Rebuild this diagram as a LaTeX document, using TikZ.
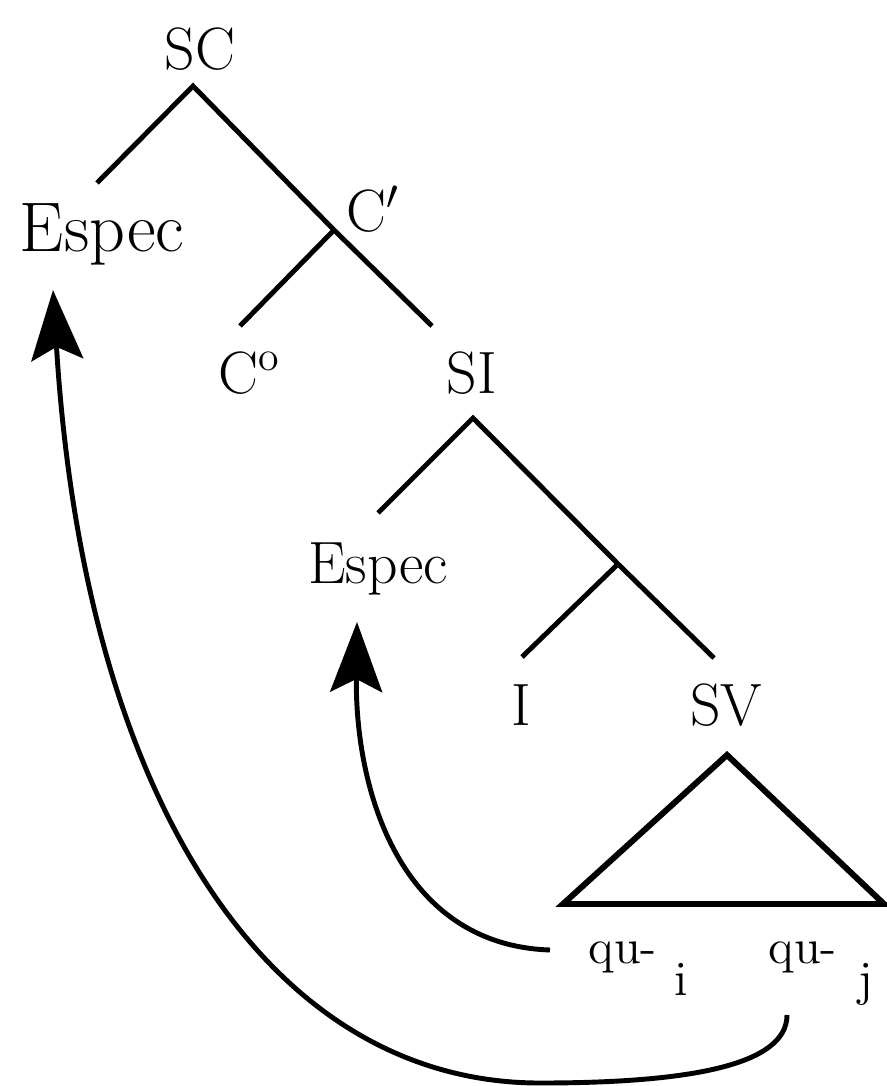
\documentclass[tikz,border=0pt]{standalone}
\usepackage{amsmath}
\usetikzlibrary{arrows.meta}

\tikzset{
    cat/.style={font=\fontsize{17}{20}\selectfont, inner sep=0pt, anchor=base},
    trace/.style={font=\fontsize{14}{16}\selectfont, inner sep=0pt, anchor=base west},
    branch/.style={line width=1.4pt},
    move/.style={line width=1.4pt, -{Stealth[length=7mm, width=5.2mm, inset=1.3mm]}},
}

\begin{document}
\begin{tikzpicture}
            \useasboundingbox (0,0) rectangle (8.86,-10.86);

                \node[cat] (sc) at (2.00,-0.70) {SC};
                \node[cat] (espec1) at (1.02,-2.52) {\fontsize{20}{22}\selectfont Espec};
                \node[cat, anchor=base west] (cbar) at (3.46,-2.32) {C$'$};
                \node[cat] (c0) at (2.50,-3.93) {C\textsuperscript{o}};
                \node[cat] (si) at (4.72,-3.93) {SI};
                \node[cat] (espec2) at (3.78,-5.83) {Espec};
                \node[cat] (infl) at (5.21,-7.25) {I};
                \node[cat] (sv) at (7.26,-7.25) {SV};
                \node[trace] (qui) at (5.88,-9.63) {qu-\hspace{0.18cm}\raisebox{-0.32cm}{i}};
                \node[trace] (quj) at (7.68,-9.63) {qu-\hspace{0.22cm}\raisebox{-0.32cm}{j}};

                \coordinate (sc-top) at (1.93,-0.86);
                \coordinate (espec1-in) at (0.97,-1.83);
                \coordinate (cbar-node) at (3.34,-2.30);
                \coordinate (c0-in) at (2.40,-3.26);
                \coordinate (si-in) at (4.32,-3.26);
                \coordinate (si-top) at (4.73,-4.18);
                \coordinate (espec2-in) at (3.78,-5.13);
                \coordinate (ibar-node) at (6.18,-5.64);
                \coordinate (infl-in) at (5.22,-6.57);
                \coordinate (sv-in) at (7.14,-6.58);
                \coordinate (sv-top) at (7.27,-7.55);
                \coordinate (sv-left) at (5.63,-9.04);
                \coordinate (sv-right) at (8.84,-9.04);

                \coordinate (qui-tail) at (5.50,-9.50);
                \coordinate (quj-tail) at (7.87,-10.15);
                \coordinate (espec2-tip) at (3.57,-6.22);
                \coordinate (espec1-tip) at (0.53,-2.90);

                \draw[branch] (espec1-in) -- (sc-top) -- (cbar-node) -- (si-in);
                \draw[branch] (c0-in) -- (cbar-node);
                \draw[branch] (espec2-in) -- (si-top) -- (ibar-node) -- (sv-in);
                \draw[branch] (infl-in) -- (ibar-node);
                \draw[line width=1.7pt] (sv-top) -- (sv-left) -- (sv-right) -- cycle;

                \draw[move] (qui-tail) .. controls (4.00,-9.45) and (3.55,-7.90) .. (espec2-tip);
                \draw[move] (quj-tail) .. controls (7.87,-10.65) and (6.90,-10.83) .. (5.40,-10.83)
                    .. controls (2.75,-10.83) and (0.85,-8.10) .. (espec1-tip);
        \end{tikzpicture}
\end{document}
